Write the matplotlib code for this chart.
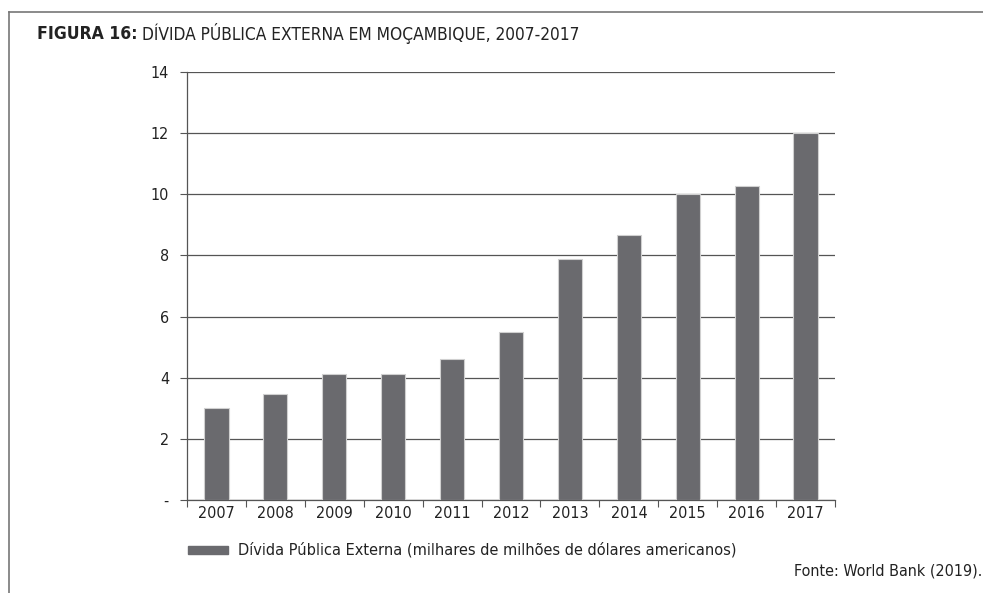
import matplotlib.pyplot as plt
import matplotlib.patches as mpatches
import numpy as np

plt.rcParams['font.family'] = ['DejaVu Sans']
plt.rcParams['font.stretch'] = 'condensed'

anos = ['2007', '2008', '2009', '2010', '2011', '2012', '2013', '2014', '2015', '2016', '2017']
divida = [3.02, 3.46, 4.12, 4.12, 4.62, 5.48, 7.88, 8.66, 10.0, 10.28, 12.0]   # mil milhoes USD
yticks = [0, 2, 4, 6, 8, 10, 12, 14]
ylabels = ['-', '2', '4', '6', '8', '10', '12', '14']

bar_col = '#6a6a6e'
grid_col = '#555555'
txt_col = '#222222'

fig = plt.figure(figsize=(9.83, 5.93), dpi=100)
ax = fig.add_axes([187/983, 1-500/593, (835-187)/983, (500-72)/593])

x = np.arange(len(anos))
ax.bar(x, divida, width=0.41, color=bar_col, edgecolor='#d0d0d0', linewidth=0.8, zorder=3)

ax.set_xlim(-0.5, len(anos)-0.5)
ax.set_ylim(0, 14)
ax.set_yticks(yticks)
ax.set_yticklabels(ylabels, fontsize=11.5, color=txt_col)
ax.yaxis.grid(True, color=grid_col, linewidth=0.9, zorder=0)

# ticks entre as categorias
ax.set_xticks(np.arange(-0.5, len(anos), 1.0))
ax.set_xticklabels([])
ax.set_xticks(x, minor=True)
ax.set_xticklabels(anos, minor=True, fontsize=11.5, color=txt_col)
ax.tick_params(axis='x', which='major', length=5, direction='out', color=grid_col)
ax.tick_params(axis='x', which='minor', length=0, pad=4)
ax.tick_params(axis='y', length=5, color=grid_col, pad=8)

for s in ['top', 'right']:
    ax.spines[s].set_visible(False)
for s in ['left', 'bottom']:
    ax.spines[s].set_color(grid_col)
    ax.spines[s].set_linewidth(0.9)

# moldura
fig.add_artist(plt.Line2D([9/983, 9/983], [0, 1-12/593], color='#777777', lw=1.2))
fig.add_artist(plt.Line2D([9/983, 1], [1-12/593, 1-12/593], color='#777777', lw=1.2))

t1 = fig.text(37/983, 1-34/593, 'FIGURA 16:', fontsize=12.6, fontweight='bold', color=txt_col, va='center')
fig.canvas.draw()
bb = t1.get_window_extent()
fig.text((bb.x1+4)/983, 1-34/593, 'DÍVIDA PÚBLICA EXTERNA EM MOÇAMBIQUE, 2007-2017', fontsize=12.4, color=txt_col, va='center')

# legenda
fig.add_artist(mpatches.Rectangle((188/983, 1-554/593), 40/983, 8/593, color=bar_col, transform=fig.transFigure))
fig.text(238/983, 1-550/593, 'Dívida Pública Externa (milhares de milhões de dólares americanos)', fontsize=11.7, va='center', color=txt_col)
fig.text(982/983, 1-571/593, 'Fonte: World Bank (2019).', fontsize=11.5, va='center', ha='right', color=txt_col)

plt.savefig('out.png', dpi=100)
